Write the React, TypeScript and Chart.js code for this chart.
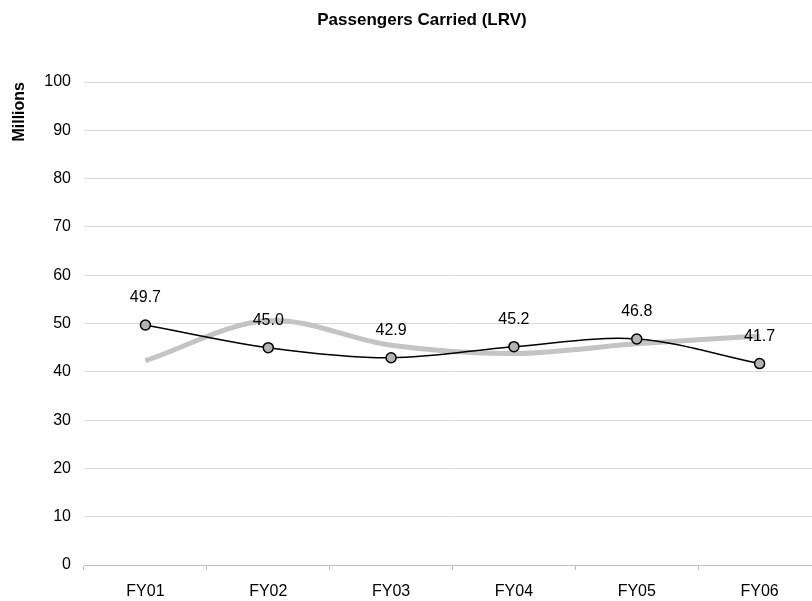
import React, { useEffect, useRef } from "react";
import { Chart, registerables } from "chart.js";

Chart.register(...registerables);

const categories = ["FY01", "FY02", "FY03", "FY04", "FY05", "FY06"];
const carried = [49.7, 45.0, 42.9, 45.2, 46.8, 41.7];
const trend = [42.3, 50.6, 45.5, 43.8, 45.8, 47.4];
const yTicksMin = 0;
const yTicksMax = 100;
const yStep = 10;

const labelPlugin = {
  id: "pointLabels",
  afterDatasetsDraw(chart: any) {
    const ctx = chart.ctx;
    const meta = chart.getDatasetMeta(0);
    ctx.save();
    ctx.font = "16px 'Liberation Sans', Arial, sans-serif";
    ctx.fillStyle = "#000";
    ctx.textAlign = "center";
    ctx.textBaseline = "middle";
    meta.data.forEach((pt: any, i: number) => {
      ctx.fillText(carried[i].toFixed(1), pt.x, pt.y - 27);
    });
    ctx.restore();
  },
};

export default function App() {
  const ref = useRef<HTMLCanvasElement | null>(null);
  useEffect(() => {
    if (!ref.current) return;
    Chart.defaults.font.family = "'Liberation Sans', Arial, sans-serif";
    const chart = new Chart(ref.current, {
      type: "line",
      data: {
        labels: categories,
        datasets: [
          {
            data: carried,
            borderColor: "#000",
            borderWidth: 1.5,
            tension: 0.33,
            pointRadius: 5,
            pointBackgroundColor: "#b3b3b3",
            pointBorderColor: "#000",
            pointBorderWidth: 1.5,
          },
          {
            data: trend,
            borderColor: "#c4c4c4",
            borderWidth: 5,
            tension: 0.33,
            pointRadius: 0,
          },
        ],
      },
      options: {
        animation: false,
        responsive: false,
        layout: { padding: { left: 23, right: 23, top: 0, bottom: 0 } },
        plugins: {
          legend: { display: false },
          tooltip: { enabled: false },
          title: {
            display: true,
            text: "Passengers Carried (LRV)",
            color: "#000",
            font: { size: 17, weight: "bold" },
            padding: { top: 10, bottom: 51.6 },
          },
        },
        scales: {
          x: {
            offset: true,
            grid: {
              offset: true,
              drawOnChartArea: false,
              drawTicks: true,
              tickLength: 5,
              color: "#bfbfbf",
            },
            border: { display: true, color: "#bfbfbf" },
            ticks: { color: "#000", font: { size: 16 }, padding: 12, maxRotation: 0 },
            afterFit: (s: any) => {
              s.height = 36;
            },
          },
          y: {
            min: yTicksMin,
            max: yTicksMax,
            ticks: { stepSize: yStep, color: "#000", font: { size: 16 }, padding: 13 },
            grid: { color: "#d9d9d9", drawTicks: false },
            border: { display: false },
            title: {
              display: true,
              text: "Millions",
              align: "end",
              color: "#000",
              font: { size: 16, weight: "bold" },
              padding: { top: -12.6, bottom: 0 },
            },
            afterFit: (s: any) => {
              s.width = 61;
            },
          },
        },
      },
      plugins: [labelPlugin],
    } as any);
    return () => chart.destroy();
  }, []);
  return (
    <div
      style={{
        position: "fixed",
        left: 0,
        top: 0,
        width: 812,
        height: 601,
        overflow: "hidden",
        background: "#fff",
      }}
    >
      <canvas ref={ref} width={844} height={601} style={{ width: 844, height: 601, display: "block" }} />
    </div>
  );
}
